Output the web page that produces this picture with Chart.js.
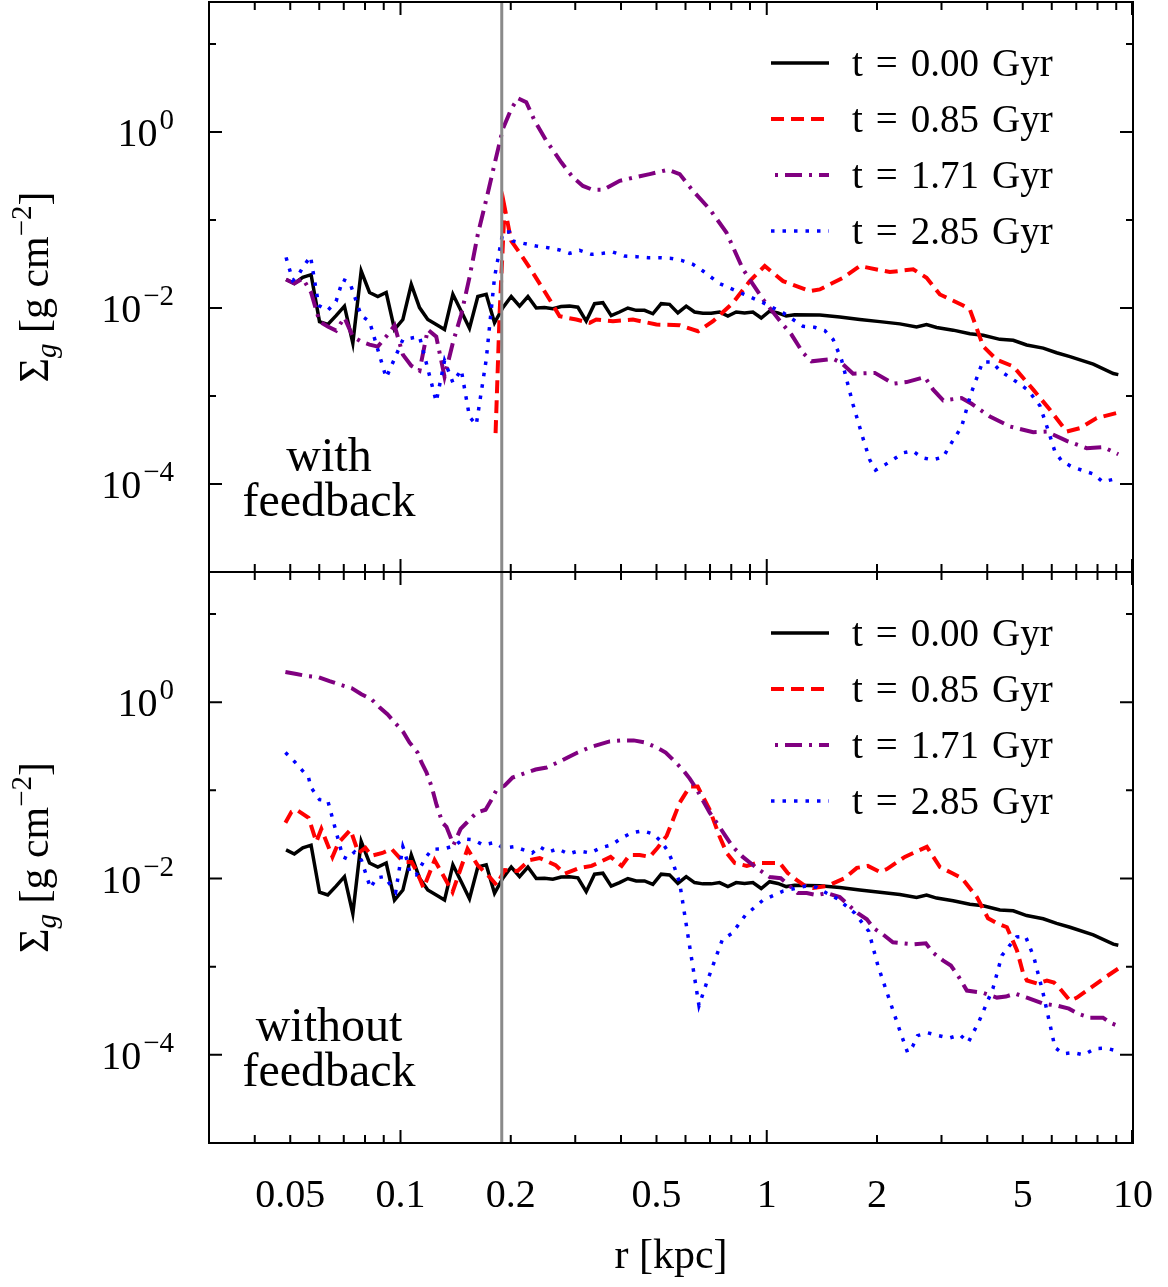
<!DOCTYPE html>
<html>
<head>
<meta charset="utf-8">
<script src="https://cdn.jsdelivr.net/npm/chart.js@4.4.1/dist/chart.umd.min.js"></script>
<style>
  body { margin: 0; background: #fff; width: 1168px; height: 1287px; position: relative; overflow: hidden; }
  .wrap { position: absolute; left: 0; width: 1168px; }
  #topWrap { top: 0; height: 583px; }
  #botWrap { top: 562px; height: 725px; }
</style>
</head>
<body>
<div class="wrap" id="topWrap"><canvas id="topChart"></canvas></div>
<div class="wrap" id="botWrap"><canvas id="botChart"></canvas></div>
<script>
// ---- data (r in kpc, surface density in g cm^-2) ----
const timeLabels = ['t = 0.00 Gyr', 't = 0.85 Gyr', 't = 1.71 Gyr', 't = 2.85 Gyr'];
const xTickValues = [0.05, 0.1, 0.2, 0.5, 1, 2, 5, 10];
const xTickLabels = ['0.05', '0.1', '0.2', '0.5', '1', '2', '5', '10'];
const yTickExps = [0, -2, -4];
const rCut = 0.189;

// t = 0 profile (same initial condition in both runs)
const rBlack = [0.0487,0.0513,0.0541,0.0570,0.0601,0.0633,0.0667,0.0703,0.0741,0.0781,
  0.0823,0.0867,0.0914,0.0963,0.1015,0.107,0.1127,0.1187,0.1252,0.1319,
  0.139,0.1465,0.1543,0.1626,0.1714,0.1806,0.1903,0.2006,0.2114,0.2228,0.2348,
  0.2473,0.2606,0.2746,0.2894,0.305,0.3214,0.3387,0.3569,0.3761,0.3963,
  0.4176,0.4401,0.4638,0.4887,0.515,0.5427,0.5719,0.6027,0.6351,0.6693,
  0.7053,0.7432,0.7832,0.8253,0.8697,0.9165,0.9658,1.0178,1.0725,1.1302,1.191,
  1.396,1.583,1.795,2.036,2.309,2.565,2.731,2.909,3.228,3.586,
  3.899,4.331,4.71,5.124,5.686,6.186,6.729,7.79,8.835,9.118];
const sigBlack = [0.0211,0.0190,0.0223,0.0239,0.0070,0.0065,0.0082,0.0105,0.0040,0.0263,
  0.0150,0.0135,0.0150,0.0057,0.0074,0.0185,0.0101,0.0074,0.0065,0.0057,
  0.0143,0.0092,0.0059,0.0135,0.0143,0.0068,0.0101,0.0135,0.0105,0.0135,0.0100,
  0.0101,0.0098,0.0104,0.0105,0.0102,0.0071,0.0112,0.0115,0.0082,0.0090,
  0.0100,0.0094,0.0094,0.0086,0.0112,0.0110,0.0088,0.0105,0.0090,0.0087,
  0.0087,0.0090,0.0081,0.0090,0.0088,0.0090,0.0077,0.0092,0.0088,0.0081,0.0084,
  0.0083,0.0079,0.0074,0.0070,0.0066,0.0061,0.0065,0.0060,0.0056,0.0051,
  0.0049,0.0044,0.0043,0.0038,0.0035,0.0031,0.0028,0.0023,0.0018,0.00175];

// with feedback
const rRedTop = [0.1818,0.1865,0.1924,0.2006,0.2114,0.2298,0.2553,0.2719,0.302,0.3284,
  0.3424,0.3802,0.4311,0.4996,0.5785,0.6493,0.7134,0.8091,0.8987,0.9875,
  1.108,1.311,1.396,1.616,1.795,2.168,2.511,2.731,2.97,3.438,
  3.586,3.899,4.242,4.71,5.341,5.933,6.591,7.165,7.958,9.118];
const sigRedTop = [3.78e-4,0.00888,0.1397,0.0577,0.0426,0.0252,0.0125,0.00806,0.00739,0.00678,
  0.00739,0.00707,0.00739,0.00649,0.00637,0.00544,0.00707,0.01147,0.0202,0.0300,
  0.0202,0.01554,0.01625,0.0221,0.0300,0.0256,0.0275,0.0221,0.01425,0.01068,
  0.00961,0.00367,0.00259,0.00217,0.00118,6.97e-4,3.94e-4,4.31e-4,5.61e-4,6.49e-4];

const rPurpleTop = [0.0487,0.0513,0.0541,0.0570,0.0601,0.0633,0.0667,0.0703,0.0741,0.0781,
  0.0823,0.0867,0.0914,0.0963,0.1015,0.107,0.1127,0.1187,0.1252,0.1319,
  0.139,0.1465,0.1543,0.1626,0.1721,0.1806,0.1903,0.2006,0.2092,0.2205,
  0.2323,0.2501,0.2748,0.2956,0.3148,0.3352,0.357,0.3967,0.4358,0.4789,
  0.5375,0.5785,0.629,0.6987,0.7762,0.8614,0.977,1.097,1.168,1.256,
  1.325,1.518,1.6,1.721,1.973,2.214,2.408,2.702,2.847,3.032,
  3.404,3.625,4.068,4.612,5.341,5.81,6.591,7.471,8.296,9.118];
const sigPurpleTop = [0.0211,0.0190,0.0217,0.0150,0.00702,0.00616,0.00554,0.00779,0.00473,0.00415,
  0.00384,0.00364,0.00473,0.00632,0.00295,0.00221,0.00194,0.00569,0.00473,0.00166,
  0.00404,0.00843,0.0223,0.0688,0.1816,0.432,1.082,1.828,2.421,2.181,
  1.345,0.796,0.452,0.305,0.244,0.220,0.220,0.279,0.305,0.332,
  0.372,0.332,0.214,0.1326,0.0719,0.0275,0.0125,0.00678,0.00499,0.00309,
  0.00248,0.00264,0.00237,0.00179,0.00183,0.00138,0.00144,0.00164,0.00118,8.9e-4,
  9.48e-4,8.16e-4,5.85e-4,4.5e-4,3.88e-4,3.94e-4,3.09e-4,2.55e-4,2.62e-4,2.18e-4];

const rBlueTop = [0.0487,0.0508,0.0524,0.0541,0.0568,0.0598,0.0633,0.0667,0.0696,0.0727,
  0.0781,0.0823,0.0914,0.1015,0.1127,0.1252,0.1319,0.139,0.1465,0.1543,
  0.161,0.1714,0.1806,0.1903,0.1985,0.2027,0.2182,0.2348,0.2526,0.2719,
  0.2895,0.3084,0.3319,0.357,0.3802,0.4093,0.4406,0.4739,0.5101,0.5491,
  0.5846,0.629,0.6698,0.7439,0.8614,0.977,1.108,1.256,1.352,1.44,
  1.518,1.6,1.721,1.833,1.911,1.982,2.101,2.367,2.501,2.657,
  2.836,3.032,3.148,3.404,3.602,3.885,4.12,4.331,4.891,5.175,
  5.57,5.869,6.122,6.386,6.801,7.79,8.264,8.93];
const sigBlueTop = [0.0376,0.0206,0.0229,0.0289,0.0386,0.0107,0.00937,0.0119,0.0211,0.0195,
  0.00821,0.00702,0.00161,0.00438,0.00473,8.6e-4,0.00252,0.00142,0.00199,5.8e-4,
  4.7e-4,0.00259,0.0223,0.0725,0.0731,0.0577,0.0539,0.0506,0.0485,0.0456,
  0.0418,0.0452,0.0407,0.0418,0.0432,0.0389,0.0383,0.0373,0.0373,0.0366,
  0.0348,0.0313,0.0263,0.0189,0.0145,0.0115,0.00882,0.0062,0.00604,0.00554,
  0.00438,0.00259,7.95e-4,3.26e-4,1.88e-4,1.44e-4,1.65e-4,2.27e-4,2.38e-4,1.99e-4,
  1.88e-4,2.02e-4,2.66e-4,4.46e-4,0.00103,0.00244,0.00244,0.00194,0.00138,0.00116,
  7.74e-4,4.05e-4,2.33e-4,1.83e-4,1.57e-4,1.3e-4,1.06e-4,1.14e-4];

// without feedback
const rRedBot = [0.0485,0.0504,0.052,0.0561,0.0589,0.0608,0.0652,0.0677,0.073,0.0768,
  0.0802,0.0833,0.0893,0.0945,0.1019,0.1072,0.1106,0.1156,0.1239,0.1387,
  0.1524,0.1623,0.1751,0.183,0.1924,0.2088,0.2252,0.2398,0.2651,0.2806,
  0.3084,0.3325,0.3748,0.4017,0.4224,0.4498,0.4789,0.5036,0.5331,0.5785,
  0.6162,0.6479,0.6987,0.7439,0.7777,0.8177,0.8819,0.9391,1.0,1.085,
  1.141,1.208,1.286,1.336,1.458,1.633,1.762,1.888,2.036,2.128,
  2.382,2.736,2.97,3.202,3.41,3.748,4.018,4.25,4.526,4.822,
  5.006,5.133,5.468,5.821,6.084,6.318,6.729,7.031,7.485,8.385,9.216];
const sigRedBot = [0.0429,0.0572,0.0603,0.0489,0.0261,0.0366,0.0176,0.0254,0.0357,0.0195,
  0.0223,0.0181,0.0195,0.0217,0.0154,0.0154,0.0122,0.00779,0.0162,0.00702,
  0.0217,0.0142,0.0104,0.00843,0.0125,0.0122,0.0162,0.0171,0.0142,0.0113,
  0.0132,0.0139,0.0176,0.0139,0.0185,0.0185,0.0176,0.0223,0.0305,0.0725,
  0.1103,0.1103,0.0603,0.0297,0.0195,0.015,0.0139,0.015,0.015,0.015,
  0.01155,0.00961,0.008,0.00779,0.00821,0.0101,0.0132,0.0139,0.0119,0.0128,
  0.0176,0.0229,0.0135,0.01155,0.0101,0.00615,0.00355,0.00311,0.0028,0.00153,
  8.6e-4,6.97e-4,6.44e-4,6.97e-4,6.61e-4,5.65e-4,4.12e-4,4.46e-4,5.36e-4,7.54e-4,9.81e-4];

const rPurpleBot = [0.0485,0.052,0.0557,0.0597,0.064,0.069,0.0735,0.0782,0.0833,0.0876,
  0.0921,0.0975,0.1019,0.1058,0.1113,0.1141,0.1178,0.1216,0.1254,0.1302,
  0.1335,0.1396,0.1459,0.1515,0.1613,0.1707,0.1772,0.183,0.1924,0.2023,
  0.221,0.2338,0.2506,0.2685,0.286,0.3046,0.3284,0.3724,0.4043,0.4331,
  0.4642,0.5006,0.5297,0.5605,0.5894,0.6162,0.6397,0.6987,0.7303,0.7679,
  0.8074,0.86,0.9391,1.019,1.092,1.215,1.286,1.37,1.458,1.583,
  1.772,1.876,1.96,2.074,2.21,2.352,2.505,2.719,2.842,3.026,
  3.182,3.326,3.519,3.868,4.25,4.498,4.761,5.133,5.677,6.198,
  6.686,7.075,7.631,8.279,8.652,9.216];
const sigPurpleBot = [2.197,2.085,1.978,1.927,1.735,1.562,1.444,1.234,1.082,0.877,
  0.73,0.561,0.455,0.35,0.269,0.207,0.159,0.1103,0.0688,0.0429,
  0.0386,0.0241,0.0366,0.0429,0.0558,0.0603,0.0785,0.102,0.1133,0.1397,
  0.1593,0.1724,0.1816,0.207,0.236,0.269,0.307,0.359,0.369,0.369,
  0.35,0.307,0.269,0.213,0.1724,0.1361,0.1075,0.0558,0.0429,0.0313,
  0.0229,0.0176,0.01317,0.0104,0.0101,0.00684,0.00684,0.00649,0.00684,0.00615,
  0.00404,0.00345,0.00273,0.00233,0.00189,0.00184,0.00179,0.00184,0.00145,0.00118,
  0.00103,7.95e-4,5.36e-4,5.09e-4,4.46e-4,4.58e-4,4.96e-4,4.46e-4,3.81e-4,3.62e-4,
  3.34e-4,2.93e-4,2.64e-4,2.64e-4,2.32e-4,2.08e-4];

const rBlueBot = [0.0485,0.0513,0.0561,0.057,0.0601,0.0633,0.0696,0.0716,0.0749,0.0782,
  0.0828,0.086,0.0904,0.097,0.1015,0.1027,0.1063,0.1104,0.1176,0.1221,
  0.131,0.1404,0.1489,0.1583,0.1679,0.1806,0.1911,0.2049,0.2168,0.2289,
  0.2398,0.2537,0.2685,0.2877,0.3064,0.3293,0.3519,0.3771,0.4017,0.4279,
  0.4584,0.4883,0.5164,0.5365,0.5536,0.5785,0.6531,0.6842,0.7568,0.804,
  0.8746,0.977,1.108,1.278,1.37,1.456,1.566,1.74,1.899,2.011,
  2.309,2.424,2.501,2.581,2.749,2.945,3.148,3.369,3.548,3.796,
  4.145,4.386,4.584,4.811,5.089,5.365,5.677,5.96,6.122,6.451,
  6.869,7.346,7.873,8.436,9.027];
const sigBlueBot = [0.269,0.213,0.1397,0.1075,0.0785,0.0764,0.0176,0.0167,0.02,0.0162,
  0.00779,0.0102,0.0105,0.00702,0.023,0.0202,0.0113,0.011,0.0177,0.0215,
  0.0217,0.0235,0.0282,0.0275,0.0241,0.0256,0.0221,0.023,0.0211,0.0195,
  0.0229,0.02,0.0217,0.019,0.0206,0.0195,0.0223,0.0241,0.0289,0.033,
  0.0348,0.0322,0.0261,0.0206,0.0154,0.00888,3.62e-4,6.44e-4,0.00204,0.00239,
  0.00384,0.00569,0.0072,0.00821,0.00794,0.00684,0.00584,0.00404,0.00252,0.00103,
  1.88e-4,1.06e-4,1.24e-4,1.65e-4,1.78e-4,1.65e-4,1.55e-4,1.69e-4,1.38e-4,2.38e-4,
  5.65e-4,0.00134,0.0017,0.00217,0.00221,0.00127,5.09e-4,2.03e-4,1.21e-4,1.03e-4,
  1.06e-4,1.0e-4,1.18e-4,1.19e-4,1.11e-4];

const FONT = '"Liberation Serif", "DejaVu Serif", serif';

function pts(rs, sig) {
  return rs.map((r, i) => ({ x: r, y: sig[i] }));
}

function makeDatasets(black, red, purple, blue) {
  return [
    { label: timeLabels[0], data: black, borderColor: '#000000', borderWidth: 3.5, borderDash: [], order: 4 },
    { label: timeLabels[1], data: red, borderColor: '#ff0000', borderWidth: 4, borderDash: [13, 7], order: 3 },
    { label: timeLabels[2], data: purple, borderColor: '#800080', borderWidth: 4, borderDash: [17, 7, 3, 7], legendOffset: 20, order: 2 },
    { label: timeLabels[3], data: blue, borderColor: '#0000ff', borderWidth: 3.5, borderDash: [3.5, 8], order: 1 }
  ].map(d => Object.assign(d, { pointRadius: 0, tension: 0, fill: false }));
}

function drawPower(ctx, exp, xRight, yBase) {
  const base = '10';
  const sup = exp === 0 ? '0' : '\u2212' + Math.abs(exp);
  ctx.font = '40px ' + FONT;
  const wb = ctx.measureText(base).width;
  ctx.font = '29px ' + FONT;
  const ws = ctx.measureText(sup).width;
  const x0 = xRight - wb - ws - 2;
  ctx.textAlign = 'left';
  ctx.font = '40px ' + FONT;
  ctx.fillText(base, x0, yBase);
  ctx.font = '29px ' + FONT;
  ctx.fillText(sup, x0 + wb + 2, yBase - 17);
}

function drawYTitle(ctx, bx, cy) {
  const parts = [
    { t: '\u03A3', f: '42px ' + FONT, dy: 0 },
    { t: 'g', f: 'italic 29px ' + FONT, dy: 8 },
    { t: ' [g cm', f: '42px ' + FONT, dy: 0 },
    { t: '\u22122', f: '29px ' + FONT, dy: -17 },
    { t: ']', f: '42px ' + FONT, dy: 0 }
  ];
  let total = 0;
  parts.forEach(p => { ctx.font = p.f; p.w = ctx.measureText(p.t).width; total += p.w; });
  ctx.save();
  ctx.translate(bx, cy);
  ctx.rotate(-Math.PI / 2);
  ctx.textAlign = 'left';
  ctx.textBaseline = 'alphabetic';
  let x = -total / 2;
  parts.forEach(p => { ctx.font = p.f; ctx.fillText(p.t, x, p.dy); x += p.w; });
  ctx.restore();
}

// frame, inward ticks, cut line, legend and texts
const decor = {
  id: 'decor',
  afterDatasetsDraw(chart, args, o) {
    const ctx = chart.ctx, a = chart.chartArea;
    const xs = chart.scales.x, ys = chart.scales.y;
    ctx.save();

    // inner radius marker
    const xc = xs.getPixelForValue(rCut);
    ctx.strokeStyle = '#8a8a8a';
    ctx.lineWidth = 3;
    ctx.beginPath(); ctx.moveTo(xc, a.top); ctx.lineTo(xc, a.bottom); ctx.stroke();

    ctx.strokeStyle = '#000';
    ctx.lineWidth = 2;
    ctx.strokeRect(a.left, a.top, a.right - a.left, a.bottom - a.top);

    // x ticks, top and bottom edges
    ctx.beginPath();
    [0.01, 0.1, 1].forEach(d => {
      for (let m = 1; m <= 9; m++) {
        const v = m * d;
        if (v < xs.min * 0.999 || v > xs.max * 1.001) continue;
        const px = xs.getPixelForValue(v);
        const len = m === 1 ? 13 : 8;
        ctx.moveTo(px, a.bottom); ctx.lineTo(px, a.bottom - len);
        ctx.moveTo(px, a.top); ctx.lineTo(px, a.top + len);
      }
    });
    const px10 = xs.getPixelForValue(10);
    ctx.moveTo(px10 - 1, a.bottom); ctx.lineTo(px10 - 1, a.bottom - 13);
    ctx.moveTo(px10 - 1, a.top); ctx.lineTo(px10 - 1, a.top + 13);

    // y ticks, left and right edges
    for (let e = -5; e <= 1; e++) {
      const py = ys.getPixelForValue(Math.pow(10, e));
      if (py < a.top + 1 || py > a.bottom - 1) continue;
      const len = yTickExps.includes(e) ? 13 : 7;
      ctx.moveTo(a.left, py); ctx.lineTo(a.left + len, py);
      ctx.moveTo(a.right, py); ctx.lineTo(a.right - len, py);
    }
    ctx.stroke();

    ctx.fillStyle = '#000';
    ctx.textBaseline = 'alphabetic';
    yTickExps.forEach(e => {
      drawPower(ctx, e, 174, ys.getPixelForValue(Math.pow(10, e)) + 14);
    });

    // legend
    chart.data.datasets.forEach((ds, i) => {
      const yy = a.top + 61 + 56 * i;
      ctx.strokeStyle = ds.borderColor;
      ctx.lineWidth = ds.borderWidth;
      ctx.setLineDash(ds.borderDash);
      ctx.lineDashOffset = ds.legendOffset || 0;
      ctx.beginPath(); ctx.moveTo(771, yy); ctx.lineTo(829, yy); ctx.stroke();
      ctx.setLineDash([]);
      ctx.lineDashOffset = 0;
      ctx.font = '39px ' + FONT;
      ctx.textAlign = 'left';
      ctx.fillText(ds.label.replace(/ /g, '\u2004'), 852, yy + 13);
    });

    // run label
    ctx.font = '48px ' + FONT;
    ctx.textAlign = 'center';
    o.runLabel.forEach((s, i) => ctx.fillText(s, 329, a.top + 469 + 45 * i));

    drawYTitle(ctx, 48, (a.top + a.bottom) / 2);

    if (o.showX) {
      ctx.font = '40px ' + FONT;
      ctx.textAlign = 'center';
      xTickValues.forEach((v, i) => {
        ctx.fillText(xTickLabels[i], xs.getPixelForValue(v), a.bottom + 64);
      });
      ctx.font = '42px ' + FONT;
      ctx.fillText('r [kpc]', (a.left + a.right) / 2, a.bottom + 125);
    }
    ctx.restore();
  }
};

function makeChart(id, datasets, padding, runLabel, showX) {
  return new Chart(document.getElementById(id), {
    type: 'line',
    data: { datasets },
    plugins: [decor],
    options: {
      responsive: true,
      maintainAspectRatio: false,
      devicePixelRatio: 1,
      animation: false,
      events: [],
      layout: { padding },
      scales: {
        x: { type: 'logarithmic', min: 0.03, max: 10, display: false },
        y: { type: 'logarithmic', min: 1e-5, max: 30, display: false }
      },
      plugins: {
        legend: { display: false },
        tooltip: { enabled: false },
        decor: { runLabel, showX }
      }
    }
  });
}

makeChart('topChart',
  makeDatasets(pts(rBlack, sigBlack), pts(rRedTop, sigRedTop), pts(rPurpleTop, sigPurpleTop), pts(rBlueTop, sigBlueTop)),
  { left: 209, right: 35, top: 2, bottom: 11 }, ['with', 'feedback'], false);

makeChart('botChart',
  makeDatasets(pts(rBlack, sigBlack), pts(rRedBot, sigRedBot), pts(rPurpleBot, sigPurpleBot), pts(rBlueBot, sigBlueBot)),
  { left: 209, right: 35, top: 10, bottom: 144 }, ['without', 'feedback'], true);
</script>
</body>
</html>
